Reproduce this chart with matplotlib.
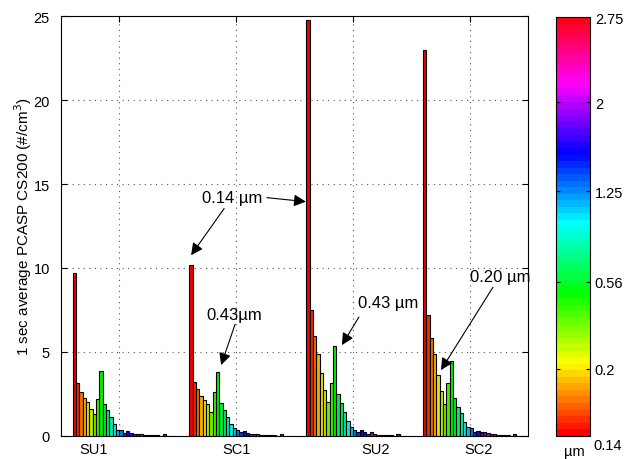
import numpy as np
import matplotlib
matplotlib.use("Agg")
from matplotlib import pyplot as plt
from matplotlib import colors as mcolors
from matplotlib import colorbar as mcolorbar

plt.rcParams['font.family'] = ['Liberation Sans', 'DejaVu Sans']
plt.rcParams['font.size'] = 10.5

# PCASP channel concentrations (#/cm3), 30 channels per case
su1 = [9.7, 3.17, 2.58, 2.22, 2.02, 1.59, 1.27, 2.18, 3.85, 1.87, 1.55, 1.11, 0.67, 0.36, 0.36,
       0.16, 0.28, 0.16, 0.12, 0.08, 0.08, 0.05, 0.04, 0.03, 0.02, 0.02, 0.01, 0.08, 0.01, 0.0]
sc1 = [10.2, 3.21, 2.78, 2.38, 2.14, 1.87, 1.39, 2.58, 3.77, 1.94, 1.51, 1.11, 0.67, 0.44, 0.36,
       0.20, 0.28, 0.16, 0.12, 0.10, 0.08, 0.06, 0.04, 0.03, 0.02, 0.02, 0.01, 0.10, 0.01, 0.0]
su2 = [24.8, 7.5, 5.95, 4.84, 3.73, 2.74, 1.98, 3.13, 5.32, 2.46, 1.94, 1.39, 0.87, 0.52, 0.36,
       0.20, 0.32, 0.24, 0.12, 0.20, 0.08, 0.06, 0.04, 0.03, 0.02, 0.02, 0.01, 0.12, 0.01, 0.0]
sc2 = [23.0, 7.2, 5.8, 4.86, 3.62, 2.66, 1.87, 3.13, 4.44, 2.26, 1.71, 1.35, 0.79, 0.52, 0.44,
       0.24, 0.28, 0.24, 0.20, 0.16, 0.12, 0.08, 0.05, 0.04, 0.03, 0.02, 0.01, 0.12, 0.01, 0.0]
cases = ['SU1', 'SC1', 'SU2', 'SC2']
label_pos = [9.9, 52.5, 94.4, 125.3]

cbar_ticks = [0.16, 0.368, 0.584, 0.797, 1.0]
cbar_labels = ['0.2', '0.56', '1.25', '2', '2.75']

group_width = 35
offset = 3
nchan = len(su1)

cmap = plt.get_cmap('hsv', 64)

fig = plt.figure(figsize=(6.35, 4.6), dpi=100)
ax = fig.add_axes([0.0961, 0.0507, 0.7354, 0.9117])

chan = np.arange(1, nchan + 1)
frac = np.clip((chan - 1) / 24.0, 0, 1)
bar_colors = [tuple(np.array(cmap(f)[:3]) * 0.93) for f in frac]

for g, vals in enumerate([su1, sc1, su2, sc2]):
    x = group_width * g + offset + chan
    ax.bar(x, vals, width=1.0, color=bar_colors, edgecolor='black', linewidth=0.8, zorder=3)

ax.set_xlim(0, 140)
ax.set_ylim(0, 25)
ax.set_yticks([0, 5, 10, 15, 20, 25])
ax.set_xticks([17.5 + group_width * g for g in range(4)])
ax.set_xticklabels([])
ax.tick_params(direction='in', top=True, right=True, length=4, width=0.8)
ax.tick_params(axis='y', pad=8)
ax.grid(True, linestyle=(0, (1, 4)), color='#555555', linewidth=0.8, zorder=0)
for s in ax.spines.values():
    s.set_linewidth(0.8)

for lab, xp in zip(cases, label_pos):
    ax.text(xp, -0.35, lab, ha='center', va='top')

ax.set_ylabel('1 sec average PCASP CS200 (#/cm$^3$)', fontsize=11)
ax.yaxis.set_label_coords(-0.058, 0.5)

arrow = dict(arrowstyle='-|>', color='k', lw=0.8, shrinkA=0, shrinkB=0, mutation_scale=18)
afs = 12

ax.text(51.3, 14.2, '0.14 \u00b5m', ha='center', va='center', fontsize=afs)
ax.annotate('', xy=(73.4, 13.95), xytext=(61.7, 14.19), arrowprops=arrow)
ax.annotate('', xy=(39.0, 10.76), xytext=(48.9, 13.54), arrowprops=arrow)

ax.text(52.0, 7.24, '0.43\u00b5m', ha='center', va='center', fontsize=afs)
ax.annotate('', xy=(48.0, 4.21), xytext=(52.2, 6.65), arrowprops=arrow)

ax.text(98.0, 7.96, '0.43 \u00b5m', ha='center', va='center', fontsize=afs)
ax.annotate('', xy=(84.2, 5.4), xytext=(89.3, 7.07), arrowprops=arrow)

ax.text(131.6, 9.5, '0.20 \u00b5m', ha='center', va='center', fontsize=afs)
ax.annotate('', xy=(113.9, 3.91), xytext=(129.5, 8.85), arrowprops=arrow)

# colorbar
cax = fig.add_axes([0.8756, 0.0507, 0.0535, 0.9096])
cb = mcolorbar.ColorbarBase(cax, cmap=cmap, norm=mcolors.Normalize(0, 1), orientation='vertical')
cb.set_ticks(cbar_ticks)
cb.set_ticklabels(cbar_labels)
cb.outline.set_linewidth(0.8)
cax.tick_params(direction='in', left=True, right=True, length=3, width=0.8)
cax.text(1.1, -0.005, '0.14', transform=cax.transAxes, ha='left', va='top')
cax.text(0.55, -0.036, '\u00b5m', transform=cax.transAxes, ha='center', va='center')

plt.savefig('out.png', dpi=100)
